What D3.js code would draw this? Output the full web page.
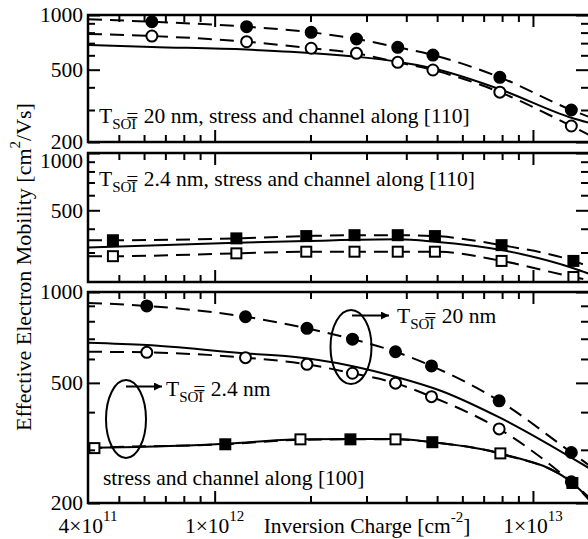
<!DOCTYPE html>
<html>
<head>
<meta charset="utf-8">
<script src="https://cdn.jsdelivr.net/npm/d3@7"></script>
<style>
  body { margin: 0; background: #fff; }
  text { font-family: "Liberation Serif", "Times New Roman", serif; fill: #000; }
</style>
</head>
<body>
<div id="chart"></div>
<script>
(function () {

  // ---- data (x = inversion charge cm^-2, y = mobility cm^2/Vs) ----
  // top panel: T_SOI = 20 nm, [110]
  var p1X      = [6.35e11, 1.26e12, 2.01e12, 2.79e12, 3.76e12, 4.85e12, 7.87e12, 1.32e13]
  var p1Filled = [918, 862, 803, 738, 664, 602, 454, 300]
  var p1Open   = [766, 713, 656, 615, 549, 498, 376, 245]
  var p1DashFilledEnds = [947, 275]
  var p1DashOpenEnds   = [786, 219]
  var p1SolidX = [4e11, 6.35e11, 1.26e12, 1.73e12, 2.79e12, 3.76e12, 4.85e12, 7.87e12, 1.32e13, 1.5e13]
  var p1SolidY = [684, 667, 645, 628, 589, 553, 509, 390, 272, 255]

  // middle panel: T_SOI = 2.4 nm, [110]
  var p2X      = [4.79e11, 1.17e12, 1.94e12, 2.75e12, 3.76e12, 4.92e12, 7.97e12, 1.34e13]
  var p2Filled = [348, 356, 366, 370, 370, 366, 328, 271]
  var p2Open   = [287, 297, 303, 303, 303, 303, 271, 223]
  var p2DashFilledEnds = [348, 253]
  var p2DashOpenEnds   = [287, 215]
  var p2SolidX = [4e11, 1.17e12, 1.94e12, 3.76e12, 4.92e12, 7.97e12, 1.34e13, 1.5e13]
  var p2SolidY = [319, 338, 345, 352, 342, 309, 248, 232]

  // bottom panel: [100]
  var p3X      = [6.12e11, 1.25e12, 1.95e12, 2.71e12, 3.70e12, 4.8e12, 7.83e12, 1.32e13]
  var p3Filled = [899, 828, 758, 698, 634, 569, 436, 294]
  var p3Open   = [631, 606, 576, 538, 499, 450, 352, 235]
  var p3DashFilledEnds = [920, 267]
  var p3DashOpenEnds   = [634, 209]
  var p3SolidX = [4e11, 6.12e11, 1.25e12, 1.73e12, 2.67e12, 3.70e12, 5.13e12, 7.93e12, 1.5e13]
  var p3SolidY = [679, 667, 626, 611, 570, 524, 471, 382, 261]
  var p3SqOpenX   = [4.19e11, 1.86e12, 3.70e12, 7.9e12]
  var p3SqOpenY   = [304, 325, 325, 292]
  var p3SqFilledX = [1.08e12, 2.67e12, 4.83e12, 1.33e13]
  var p3SqFilledY = [313, 325, 318, 233]
  var p3SqLineX = [4e11, 4.19e11, 1.08e12, 1.86e12, 2.67e12, 3.70e12, 4.83e12, 7.9e12, 1.33e13, 1.5e13]
  var p3SqSolidY = [305, 305, 314, 325, 326, 326, 318, 292, 233, 207]
  var p3SqDashY  = [303, 304, 313, 324, 325, 325, 318, 291, 233, 205]

  var xMajor = [1e12, 1e13]
  var xMinor = [5e11, 6e11, 7e11, 8e11, 9e11, 2e12, 3e12, 4e12, 5e12, 6e12, 7e12, 8e12, 9e12]
  var xTickLabels = [["4\u00d710", "11", 4e11], ["1\u00d710", "12", 1e12], ["1\u00d710", "13", 1e13]]
  var yMajor = [200, 500, 1000]
  var yMinor = [300, 400, 600, 700, 800, 900]

  var width = 588, height = 539
  var fontSize = "21.5px"

  var svg = d3.select("#chart")
    .append("svg")
    .attr("width", width)
    .attr("height", height)

  var xPositionScale = d3.scaleLog()
    .domain([4e11, 1.5e13])
    .range([88, 589])

  var panels = [
    { top: 15,  bottom: 142, domain: [200, 1000] },
    { top: 153, bottom: 282, domain: [210, 1000] },
    { top: 292, bottom: 503, domain: [200, 1000] }
  ]

  function pairs(xs, ys) {
    return xs.map(function (d, i) { return [d, ys[i]] })
  }
  function withEnds(xs, ys, ends) {
    return [[4e11, ends[0]]].concat(pairs(xs, ys)).concat([[1.5e13, ends[1]]])
  }

  panels.forEach(function (p, i) {
    p.y = d3.scaleLog().domain(p.domain).range([p.bottom, p.top])
    svg.append("clipPath").attr("id", "clip" + i)
      .append("rect")
      .attr("x", 88).attr("y", p.top)
      .attr("width", 503).attr("height", p.bottom - p.top)
    p.g = svg.append("g")
    p.plot = p.g.append("g").attr("clip-path", "url(#clip" + i + ")")
  })

  function drawLine(p, data, dashed) {
    var line = d3.line()
      .x(function (d) { return xPositionScale(d[0]) })
      .y(function (d) { return p.y(d[1]) })
      .curve(d3.curveMonotoneX)
    p.plot.append("path")
      .datum(data)
      .attr("d", line)
      .attr("fill", "none")
      .attr("stroke", "#000")
      .attr("stroke-width", 2)
      .attr("stroke-dasharray", dashed ? "14,8" : null)
  }

  function drawCircles(p, data, filled) {
    p.g.selectAll(null)
      .data(data)
      .enter().append("circle")
      .attr("cx", function (d) { return xPositionScale(d[0]) })
      .attr("cy", function (d) { return p.y(d[1]) })
      .attr("r", 5.5)
      .attr("fill", filled ? "#000" : "#fff")
      .attr("stroke", "#000")
      .attr("stroke-width", 2)
  }

  function drawSquares(p, data, filled) {
    p.g.selectAll(null)
      .data(data)
      .enter().append("rect")
      .attr("x", function (d) { return xPositionScale(d[0]) - 5 })
      .attr("y", function (d) { return p.y(d[1]) - 5 })
      .attr("width", 10)
      .attr("height", 10)
      .attr("fill", filled ? "#000" : "#fff")
      .attr("stroke", "#000")
      .attr("stroke-width", 2)
  }

  // top panel
  var P1 = panels[0]
  drawLine(P1, pairs(p1SolidX, p1SolidY), false)
  drawLine(P1, withEnds(p1X, p1Filled, p1DashFilledEnds), true)
  drawLine(P1, withEnds(p1X, p1Open, p1DashOpenEnds), true)
  drawCircles(P1, pairs(p1X, p1Filled), true)
  drawCircles(P1, pairs(p1X, p1Open), false)

  // middle panel
  var P2 = panels[1]
  drawLine(P2, pairs(p2SolidX, p2SolidY), false)
  drawLine(P2, withEnds(p2X, p2Filled, p2DashFilledEnds), true)
  drawLine(P2, withEnds(p2X, p2Open, p2DashOpenEnds), true)
  drawSquares(P2, pairs(p2X, p2Filled), true)
  drawSquares(P2, pairs(p2X, p2Open), false)

  // bottom panel
  var P3 = panels[2]
  drawLine(P3, pairs(p3SolidX, p3SolidY), false)
  drawLine(P3, withEnds(p3X, p3Filled, p3DashFilledEnds), true)
  drawLine(P3, withEnds(p3X, p3Open, p3DashOpenEnds), true)
  drawLine(P3, pairs(p3SqLineX, p3SqDashY), true)
  drawLine(P3, pairs(p3SqLineX, p3SqSolidY), false)
  drawCircles(P3, pairs(p3X, p3Filled), true)
  drawCircles(P3, pairs(p3X, p3Open), false)
  drawSquares(P3, pairs(p3SqOpenX, p3SqOpenY), false)
  drawSquares(P3, pairs(p3SqFilledX, p3SqFilledY), true)

  // frames and ticks
  panels.forEach(function (p, i) {
    var g = p.g

    function addAxis(axis, tx, ty) {
      var a = g.append("g")
        .attr("class", "axis")
        .attr("transform", "translate(" + tx + "," + ty + ")")
        .call(axis)
      a.select(".domain").remove()
      a.selectAll(".tick line").attr("stroke-width", 2)
      return a
    }

    addAxis(d3.axisBottom(xPositionScale).tickValues(xMajor).tickSize(-12).tickFormat(""), 0, p.bottom)
    addAxis(d3.axisBottom(xPositionScale).tickValues(xMinor).tickSize(-7).tickFormat(""), 0, p.bottom)
    addAxis(d3.axisTop(xPositionScale).tickValues(xMajor).tickSize(-12).tickFormat(""), 0, p.top)
    addAxis(d3.axisTop(xPositionScale).tickValues(xMinor).tickSize(-7).tickFormat(""), 0, p.top)

    var majors = yMajor.filter(function (v) { return v >= p.domain[0] })
    var yl = addAxis(d3.axisLeft(p.y).tickValues(majors).tickSize(-12).tickPadding(5).tickFormat(d3.format("d")), 88, 0)
    yl.selectAll(".tick text")
      .style("font-family", '"Liberation Serif", serif')
      .style("font-size", fontSize)
      .attr("fill", "#000")
    if (i === 1) {
      yl.selectAll(".tick text").filter(function (d) { return d === 1000 }).attr("y", 8)
    }
    addAxis(d3.axisLeft(p.y).tickValues(yMinor).tickSize(-7).tickFormat(""), 88, 0)
    addAxis(d3.axisRight(p.y).tickValues(majors).tickSize(-12).tickFormat(""), 588, 0)
    addAxis(d3.axisRight(p.y).tickValues(yMinor).tickSize(-7).tickFormat(""), 588, 0)

    // frame: right side sits just outside the window, as in the original crop
    g.append("rect")
      .attr("x", 88).attr("y", p.top)
      .attr("width", 503).attr("height", p.bottom - p.top)
      .attr("fill", "none")
      .attr("stroke", "#000")
      .attr("stroke-width", 2.5)
  })

  // x tick labels
  xTickLabels.forEach(function (t) {
    var txt = svg.append("text")
      .attr("x", xPositionScale(t[2]))
      .attr("y", 533)
      .attr("text-anchor", "middle")
      .style("font-size", fontSize)
    txt.append("tspan").text(t[0])
    txt.append("tspan").attr("dy", -12).style("font-size", "15px").text(t[1])
  })

  // axis titles
  var xt = svg.append("text")
    .attr("x", 367).attr("y", 533)
    .attr("text-anchor", "middle")
    .style("font-size", fontSize)
  xt.append("tspan").text("Inversion Charge [cm")
  xt.append("tspan").attr("dy", -11).style("font-size", "15px").text("-2")
  xt.append("tspan").attr("dy", 11).text("]")

  var yt = svg.append("text")
    .attr("transform", "translate(31,267) rotate(-90)")
    .attr("text-anchor", "middle")
    .style("font-size", "22px")
  yt.append("tspan").text("Effective Electron Mobility [cm")
  yt.append("tspan").attr("dy", -11).style("font-size", "15px").text("2")
  yt.append("tspan").attr("dy", 11).text("/Vs]")

  // annotations
  function tsoi(x, y, rest) {
    var t = svg.append("text").attr("x", x).attr("y", y).style("font-size", fontSize)
    t.append("tspan").text("T")
    t.append("tspan").attr("dy", 6).style("font-size", "15px").text("SOI")
    t.append("tspan").attr("dy", -6).attr("dx", -10).text("= " + rest)
  }
  tsoi(99, 123, "20 nm, stress and channel along [110]")
  tsoi(99, 186, "2.4 nm, stress and channel along [110]")
  tsoi(397, 323, "20 nm")
  tsoi(166, 396, "2.4 nm")

  svg.append("text")
    .attr("x", 103).attr("y", 485)
    .style("font-size", fontSize)
    .text("stress and channel along [100]")

  var defs = svg.append("defs")
  defs.append("marker")
    .attr("id", "arrow")
    .attr("viewBox", "0 0 10 10")
    .attr("refX", 10).attr("refY", 5)
    .attr("markerWidth", 10).attr("markerHeight", 8)
    .attr("markerUnits", "userSpaceOnUse")
    .attr("orient", "auto")
    .append("path")
    .attr("d", "M0,0L10,5L0,10z")
    .attr("fill", "#000")

  svg.append("ellipse")
    .attr("cx", 351).attr("cy", 347).attr("rx", 20.5).attr("ry", 37)
    .attr("fill", "none").attr("stroke", "#000").attr("stroke-width", 2)
  svg.append("line")
    .attr("x1", 352).attr("y1", 315.5).attr("x2", 389).attr("y2", 315.5)
    .attr("stroke", "#000").attr("stroke-width", 2)
    .attr("marker-end", "url(#arrow)")

  svg.append("ellipse")
    .attr("cx", 126).attr("cy", 419).attr("rx", 20).attr("ry", 39)
    .attr("fill", "none").attr("stroke", "#000").attr("stroke-width", 2)
  svg.append("line")
    .attr("x1", 126).attr("y1", 386.5).attr("x2", 162).attr("y2", 386.5)
    .attr("stroke", "#000").attr("stroke-width", 2)
    .attr("marker-end", "url(#arrow)")

})()
</script>
</body>
</html>
